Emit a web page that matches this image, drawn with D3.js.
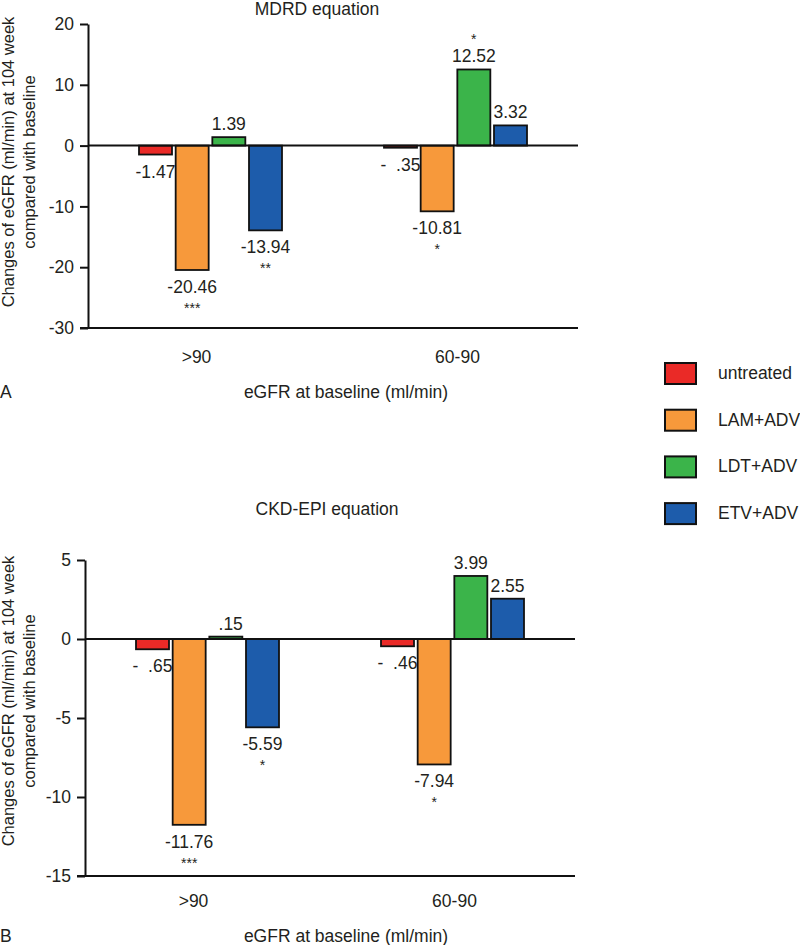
<!DOCTYPE html>
<html>
<head>
<meta charset="utf-8">
<script src="https://cdn.jsdelivr.net/npm/d3@7"></script>
<style>
  body { margin: 0; background: #fff; }
  svg { display: block; font-family: "Liberation Sans", Arial, sans-serif; }
  text { fill: #231f20; }
</style>
</head>
<body>
<script>
var width = 800;
var height = 945;

var groupArray = [">90", "60-90"];
var seriesArray = ["untreated", "LAM+ADV", "LDT+ADV", "ETV+ADV"];
var colorArray = ["#ea2a27", "#f7993b", "#3bb44a", "#1d5cab"];

// values per group, in series order
var mdrdValues = [[-1.47, -20.46, 1.39, -13.94], [-0.35, -10.81, 12.52, 3.32]];
var mdrdStars = [["", "***", "", "**"], ["", "*", "*", ""]];
var mdrdTicks = [-30, -20, -10, 0, 10, 20];

var ckdValues = [[-0.65, -11.76, 0.15, -5.59], [-0.46, -7.94, 3.99, 2.55]];
var ckdStars = [["", "***", "", "*"], ["", "*", "", ""]];
var ckdTicks = [-15, -10, -5, 0, 5];

var yTitle1 = "Changes of eGFR (ml/min) at 104 week";
var yTitle2 = "compared with baseline";
var xTitle = "eGFR at baseline (ml/min)";

const SVG = d3.select("body")
              .append("svg")
              .attr("width", width)
              .attr("height", height);

// the source drops the leading zero but keeps its space
function valueText(v){
  var s = v.toFixed(2);
  return s.replace(/^(-?)0\./, function(m, sign){ return sign ? "-\u2007." : "\u2007."; });
}

function drawPanel(opt){
  var g = SVG.append("g");

  var xScale = d3.scaleBand()
                 .domain(groupArray)
                 .range([opt.left, opt.right]);

  var subScale = d3.scaleBand()
                   .domain(seriesArray)
                   .range([-71.5, 71.5])
                   .paddingInner(0.1);

  var yScale = d3.scaleLinear()
                 .domain([opt.ticks[0], opt.ticks[opt.ticks.length - 1]])
                 .range([opt.bottom, opt.top]);

  var yAxis = d3.axisLeft(yScale)
                .tickValues(opt.ticks)
                .tickFormat((d) => String(d))
                .tickSize(8)
                .tickSizeOuter(0)
                .tickPadding(6);

  var ya = g.append("g")
            .attr("transform", "translate(" + opt.left + ",0)")
            .call(yAxis);
  ya.select(".domain").attr("stroke", "#111").attr("stroke-width", 2);
  ya.selectAll(".tick line").attr("stroke", "#111").attr("stroke-width", 2);
  ya.selectAll(".tick text").attr("font-size", 17.5).attr("fill", "#231f20");

  // bottom axis line
  g.append("line")
   .attr("x1", opt.left - 8)
   .attr("x2", opt.right)
   .attr("y1", yScale(opt.ticks[0]))
   .attr("y2", yScale(opt.ticks[0]))
   .attr("stroke", "#111")
   .attr("stroke-width", 2);

  var rows = [];
  groupArray.forEach(function(grp, gi){
    seriesArray.forEach(function(s, si){
      rows.push({group: grp, series: s, value: opt.values[gi][si], stars: opt.stars[gi][si], color: colorArray[si]});
    });
  });

  var cx = function(d){ return xScale(d.group) + xScale.bandwidth() / 2 + subScale(d.series); };

  g.selectAll(".bar")
   .data(rows)
   .enter()
   .append("rect")
   .attr("class", "bar")
   .attr("x", cx)
   .attr("width", subScale.bandwidth())
   .attr("y", (d) => yScale(Math.max(0, d.value)))
   .attr("height", (d) => Math.abs(yScale(d.value) - yScale(0)))
   .attr("fill", (d) => d.color)
   .attr("stroke", "#111")
   .attr("stroke-width", 1.8);

  // zero line
  g.append("line")
   .attr("x1", opt.left)
   .attr("x2", opt.right)
   .attr("y1", yScale(0))
   .attr("y2", yScale(0))
   .attr("stroke", "#111")
   .attr("stroke-width", 2);

  var mid = function(d){ return cx(d) + subScale.bandwidth() / 2; };

  g.selectAll(".val")
   .data(rows)
   .enter()
   .append("text")
   .attr("class", "val")
   .attr("x", mid)
   .attr("y", (d) => d.value >= 0 ? yScale(d.value) - 7 : yScale(d.value) + 23)
   .attr("text-anchor", "middle")
   .attr("font-size", 17.5)
   .style("white-space", "pre")
   .text((d) => valueText(d.value));

  g.selectAll(".star")
   .data(rows.filter((d) => d.stars))
   .enter()
   .append("text")
   .attr("class", "star")
   .attr("x", mid)
   .attr("y", (d) => d.value >= 0 ? yScale(d.value) - 25 : yScale(d.value) + 43)
   .attr("text-anchor", "middle")
   .attr("font-size", 14)
   .text((d) => d.stars);

  // category labels
  g.selectAll(".cat")
   .data(groupArray)
   .enter()
   .append("text")
   .attr("class", "cat")
   .attr("x", (d, i) => xScale(d) + xScale.bandwidth() / 2 + (i === 0 ? -14 : 2))
   .attr("y", yScale(opt.ticks[0]) + opt.catGap)
   .attr("text-anchor", "middle")
   .attr("font-size", 17.5)
   .text((d) => d);

  g.append("text")
   .attr("x", 346)
   .attr("y", yScale(opt.ticks[0]) + opt.xTitleGap)
   .attr("text-anchor", "middle")
   .attr("font-size", 17.5)
   .text(xTitle);

  g.append("text")
   .attr("x", 0)
   .attr("y", yScale(opt.ticks[0]) + opt.xTitleGap)
   .attr("font-size", 17.5)
   .text(opt.letter);

  g.append("text")
   .attr("x", opt.titleX)
   .attr("y", opt.titleY)
   .attr("text-anchor", "middle")
   .attr("font-size", 17.5)
   .text(opt.title);

  var yt = g.append("g")
            .attr("transform", "translate(0," + opt.yTitleY + ") rotate(-90)");
  yt.append("text")
    .attr("y", 14)
    .attr("text-anchor", "middle")
    .attr("font-size", 16.5)
    .text(yTitle1);
  yt.append("text")
    .attr("y", 35)
    .attr("text-anchor", "middle")
    .attr("font-size", 16.5)
    .text(yTitle2);
}

drawPanel({
  values: mdrdValues, stars: mdrdStars, ticks: mdrdTicks,
  left: 88, right: 578, top: 24, bottom: 328,
  title: "MDRD equation", titleX: 317, titleY: 15,
  letter: "A", catGap: 35, xTitleGap: 70, yTitleY: 162
});

drawPanel({
  values: ckdValues, stars: ckdStars, ticks: ckdTicks,
  left: 85, right: 575, top: 560, bottom: 876,
  title: "CKD-EPI equation", titleX: 327, titleY: 515,
  letter: "B", catGap: 31, xTitleGap: 66, yTitleY: 701
});

// legend
var legend = SVG.selectAll(".legend")
                .data(seriesArray)
                .enter()
                .append("g")
                .attr("class", "legend")
                .attr("transform", (d, i) => "translate(665," + (363 + i * 46.7) + ")");

legend.append("rect")
      .attr("width", 31)
      .attr("height", 21)
      .attr("fill", (d, i) => colorArray[i])
      .attr("stroke", "#111")
      .attr("stroke-width", 2);

legend.append("text")
      .attr("x", 53)
      .attr("y", 16)
      .attr("font-size", 17.5)
      .text((d) => d);
</script>
</body>
</html>
